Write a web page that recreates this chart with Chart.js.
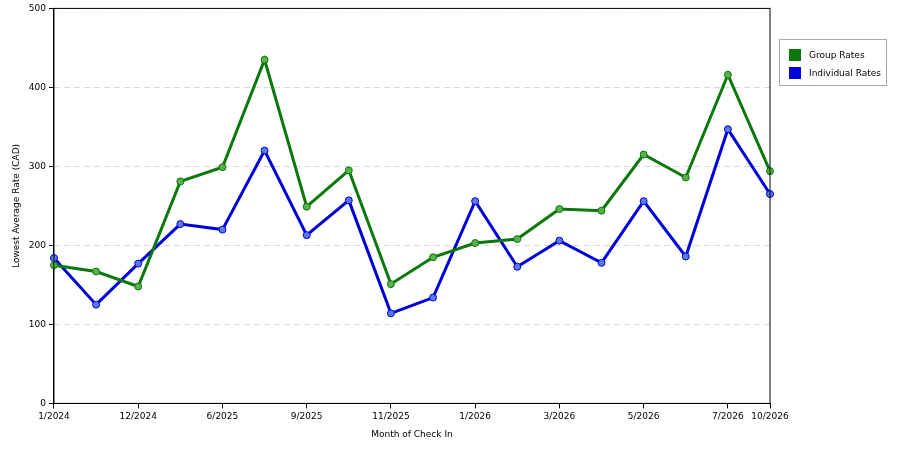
<!DOCTYPE html>
<html>
<head>
<script src="https://cdn.jsdelivr.net/npm/chart.js@4"></script>
<style>
body{margin:0;background:#fff;font-family:"DejaVu Sans",sans-serif;}
#wrap{position:relative;width:900px;height:450px;}
#legend{position:absolute;left:779px;top:39px;width:108px;height:47px;border:1px solid #aaa;font-size:9px;box-sizing:border-box;padding-top:6px;}
#legend div{display:flex;align-items:center;height:18px;padding-left:9px;}
#legend span{display:inline-block;width:12px;height:12px;margin-right:8px;}
</style>
</head>
<body>
<div id="wrap">
<canvas id="c" width="900" height="450"></canvas>
<div id="legend">
  <div><span style="background:#0a780a"></span>Group Rates</div>
  <div><span style="background:#0000d8"></span>Individual Rates</div>
</div>
</div>
<script>
const months = ['1/2024','','12/2024','','6/2025','','9/2025','','11/2025','','1/2026','','3/2026','','5/2026','','7/2026','10/2026'];
const groupRates = [175,167,148,281,299,435,249,295,151,185,203,208,246,244,315,286,416,294];
const individualRates = [184,125,177,227,220,320,213,257,114,134,256,173,206,178,256,186,347,265];

new Chart(document.getElementById('c'), {
  type: 'line',
  data: {
    labels: months,
    datasets: [
      { label: 'Group Rates', data: groupRates, borderColor: '#0a780a', backgroundColor: '#5ab04a',
        pointBorderColor: '#0a780a', borderWidth: 3, pointRadius: 3.5, pointBorderWidth: 1, tension: 0 },
      { label: 'Individual Rates', data: individualRates, borderColor: '#0000d8', backgroundColor: '#5a7ae8',
        pointBorderColor: '#0000d8', borderWidth: 3, pointRadius: 3.5, pointBorderWidth: 1, tension: 0 }
    ]
  },
  options: {
    responsive: false,
    animation: false,
    layout: { padding: { top: 1, right: 130, left: 7, bottom: 6 } },
    plugins: { legend: { display: false }, tooltip: { enabled: false } },
    scales: {
      x: {
        offset: false,
        grid: { drawOnChartArea: false, tickColor: ctx => ctx.tick && ctx.tick.label ? '#000' : 'rgba(0,0,0,0)', tickLength: 5 },
        border: { color: '#000' },
        ticks: { autoSkip: false, maxRotation: 0, color: '#000', font: { size: 9, family: 'DejaVu Sans' } },
        title: { display: true, text: 'Month of Check In', color: '#000', font: { size: 9, family: 'DejaVu Sans' } }
      },
      y: {
        min: 0, max: 500,
        ticks: { stepSize: 100, color: '#000', font: { size: 9, family: 'DejaVu Sans' } },
        grid: { color: '#d8d8d8', tickColor: '#000', tickLength: 5 },
        border: { color: '#000', dash: [6, 4] },
        title: { display: true, text: 'Lowest Average Rate (CAD)', color: '#000', font: { size: 9, family: 'DejaVu Sans' } }
      }
    }
  },
  plugins: [{
    id: 'frame',
    afterDraw(chart) {
      const a = chart.chartArea, ctx = chart.ctx;
      ctx.save();
      ctx.strokeStyle = '#000';
      ctx.lineWidth = 1;
      ctx.setLineDash([]);
      ctx.strokeRect(a.left, a.top, a.right - a.left, a.bottom - a.top);
      ctx.restore();
    }
  }]
});
</script>
</body>
</html>
